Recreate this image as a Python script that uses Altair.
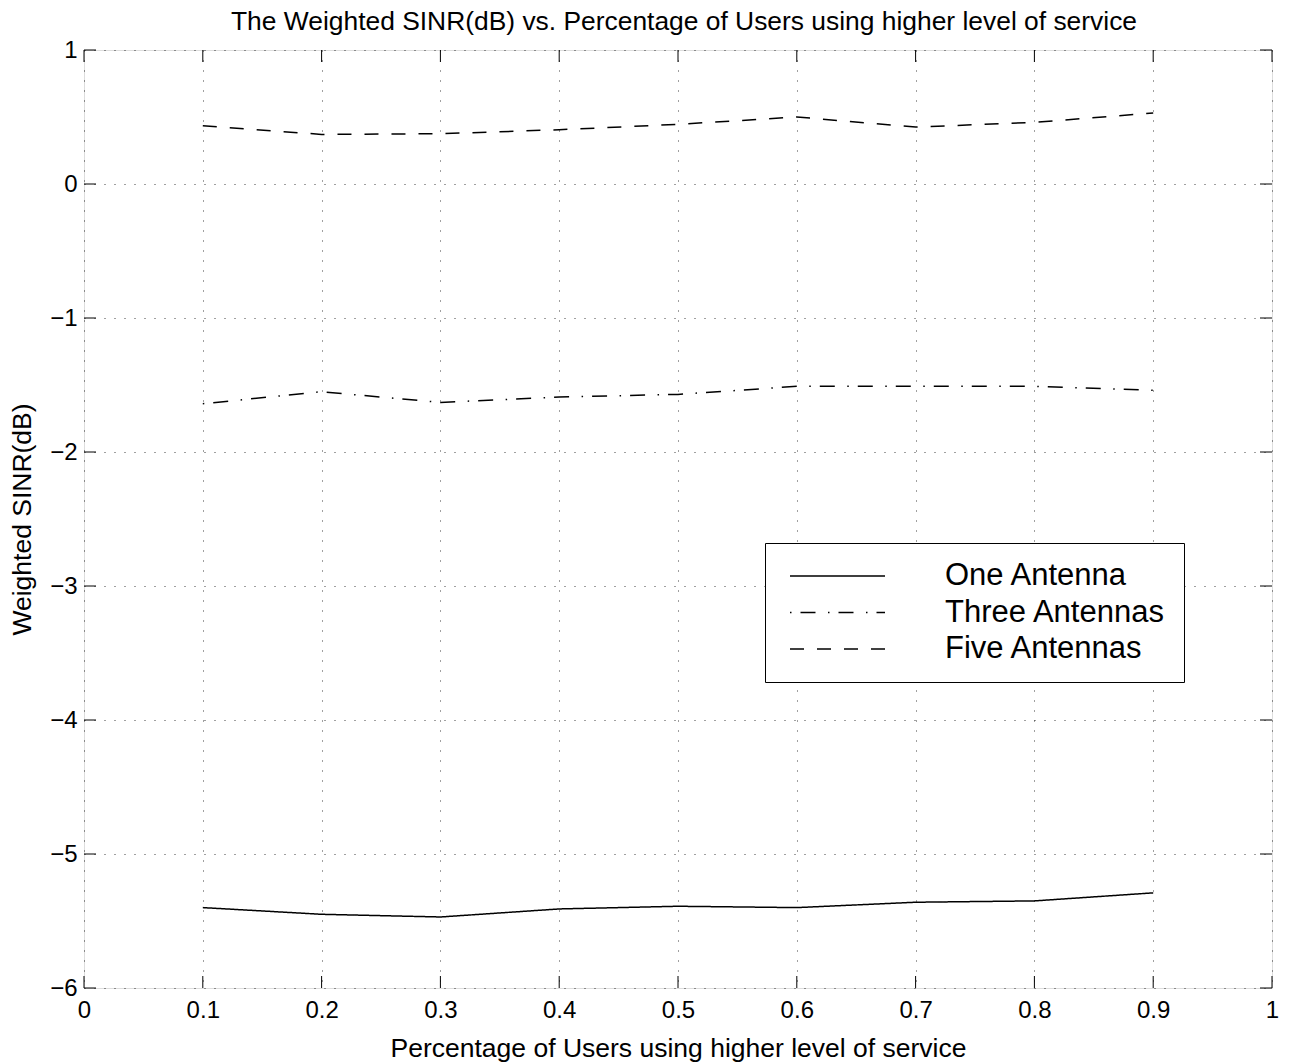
import altair as alt
import pandas as pd

# ---- data ----
x_vals = [0.1, 0.2, 0.3, 0.4, 0.5, 0.6, 0.7, 0.8, 0.9]
one_antenna = [-5.40, -5.45, -5.47, -5.41, -5.39, -5.40, -5.36, -5.35, -5.29]
three_antennas = [-1.64, -1.55, -1.63, -1.59, -1.57, -1.51, -1.51, -1.51, -1.54]
five_antennas = [0.435, 0.37, 0.375, 0.405, 0.445, 0.50, 0.425, 0.46, 0.53]
series_names = ["One Antenna", "Three Antennas", "Five Antennas"]
x_ticks = [0, 0.1, 0.2, 0.3, 0.4, 0.5, 0.6, 0.7, 0.8, 0.9, 1]
y_ticks = [-6, -5, -4, -3, -2, -1, 0, 1]

title_text = "The Weighted SINR(dB) vs. Percentage of Users using higher level of service"
x_title = "Percentage of Users using higher level of service"
y_title = "Weighted SINR(dB)"

FONT = "Liberation Sans"
W, H = 1188, 938
TICK = 12

rows = []
for name, vals in zip(series_names, [one_antenna, three_antennas, five_antennas]):
    for xv, yv in zip(x_vals, vals):
        rows.append({"x": xv, "y": yv, "series": name})
df = pd.DataFrame(rows)
xt = pd.DataFrame({"t": x_ticks})
yt = pd.DataFrame({"t": y_ticks})

xscale = alt.Scale(domain=[0, 1], nice=False, zero=False)
yscale = alt.Scale(domain=[-6, 1], nice=False, zero=False)

x_axis = alt.Axis(
    values=x_ticks, format="~g", title=x_title, grid=True, ticks=False,
    domain=False, labelPadding=10, labelFontSize=24, labelFont=FONT,
    labelColor="black", titleFontSize=26.5, titleFont=FONT, titleFontWeight="normal",
    titleColor="black", titleY=60, titleBaseline="middle",
    gridColor="black", gridDash=[1, 9], gridOpacity=0.75, labelFlush=False,
)
y_axis = alt.Axis(
    values=y_ticks, format="d", title=y_title, grid=True, ticks=False,
    domain=False, labelPadding=7, labelFontSize=24, labelFont=FONT,
    labelColor="black", titleFontSize=26.5, titleFont=FONT, titleFontWeight="normal",
    titleColor="black", titleX=-62, titleY=H / 2, titleBaseline="middle",
    titleAngle=-90, titleAlign="center",
    gridColor="black", gridDash=[1, 9], gridOpacity=0.75, labelFlush=False,
)

lines = alt.Chart(df).mark_line(color="black", strokeWidth=1.5).encode(
    x=alt.X("x:Q", scale=xscale, axis=x_axis),
    y=alt.Y("y:Q", scale=yscale, axis=y_axis),
    strokeDash=alt.StrokeDash(
        "series:N",
        scale=alt.Scale(domain=series_names,
                        range=[[1, 0], [1.5, 9, 15, 12.5], [14, 13]]),
        sort=series_names,
        legend=alt.Legend(
            title=None, orient="none", legendX=681, legendY=493,
            symbolType="stroke", symbolSize=9025, symbolStrokeWidth=1.5,
            symbolStrokeColor="black", clipHeight=30, rowPadding=5.5,
            labelFontSize=31, labelFont=FONT, labelColor="black", labelOffset=59,
            padding=18, symbolOffset=6, strokeColor="black", fillColor="white",
            labelLimit=400,
        ),
    ),
)

tick_bottom = alt.Chart(xt).mark_rule(color="black", strokeWidth=1).encode(
    x=alt.X("t:Q", scale=xscale), y=alt.value(H), y2=alt.value(H - TICK))
tick_top = alt.Chart(xt).mark_rule(color="black", strokeWidth=1).encode(
    x=alt.X("t:Q", scale=xscale), y=alt.value(0), y2=alt.value(TICK))
tick_left = alt.Chart(yt).mark_rule(color="black", strokeWidth=1).encode(
    y=alt.Y("t:Q", scale=yscale), x=alt.value(0), x2=alt.value(TICK))
tick_right = alt.Chart(yt).mark_rule(color="black", strokeWidth=1).encode(
    y=alt.Y("t:Q", scale=yscale), x=alt.value(W), x2=alt.value(W - TICK))

chart = alt.layer(lines, tick_bottom, tick_top, tick_left, tick_right).properties(
    width=W, height=H,
    title=alt.TitleParams(title_text, font=FONT, fontSize=26.4, fontWeight="normal",
                          color="black", anchor="middle", frame="group",
                          offset=5, baseline="alphabetic", dx=6, dy=23),
    autosize=alt.AutoSizeParams(type="none"),
    padding={"left": 84, "top": 50, "right": 23, "bottom": 75},
).configure_view(stroke="black", strokeWidth=1.2).configure(background="white")

chart.save("out.html", embed_options={"renderer": "svg", "actions": False})
